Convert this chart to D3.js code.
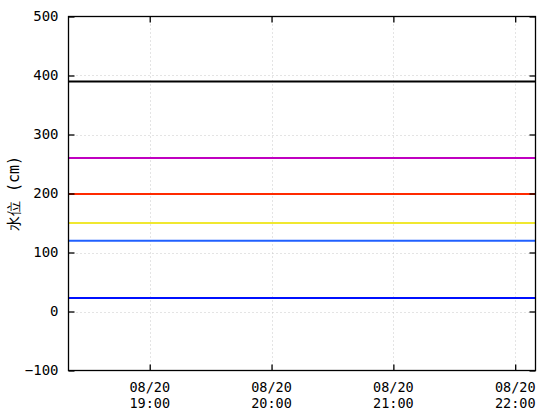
<!DOCTYPE html>
<html><head><meta charset="utf-8">
<script src="https://cdn.jsdelivr.net/npm/d3@7"></script>
<style>body{margin:0;background:#fff}svg{display:block}text{font-family:"DejaVu Sans Mono",monospace}</style>
</head><body><svg id="c" width="560" height="420"></svg>
<script>
const times = ["2023-08-20T18:20","2023-08-20T19:00","2023-08-20T20:00","2023-08-20T21:00","2023-08-20T22:00","2023-08-20T22:10"];
const seriesBlack  = [390,390,390,390,390,390];
const seriesPurple = [260,260,260,260,260,260];
const seriesRed    = [199,199,199,199,199,199];
const seriesYellow = [150,150,150,150,150,150];
const seriesLtBlue = [120,120,120,120,120,120];
const seriesBlue   = [23,23,23,23,23,23];
const yTicks = [-100,0,100,200,300,400,500];
const xTicks = ["2023-08-20T19:00","2023-08-20T20:00","2023-08-20T21:00","2023-08-20T22:00"];
const yLabel = "水位 (cm)";

const parse = d3.timeParse("%Y-%m-%dT%H:%M");
const svg = d3.select("#c");
const L=68.5, R=535.5, T=16.5, B=370.5;
const x = d3.scaleTime().domain([parse(times[0]), parse(times[times.length-1])]).range([L,R]);
const y = d3.scaleLinear().domain([-100,500]).range([B,T]);

// grid
const g = svg.append("g");
yTicks.filter(v=>v>-100&&v<500).forEach(v=>{
  g.append("line").attr("x1",L).attr("x2",R).attr("y1",Math.round(y(v))+0.5).attr("y2",Math.round(y(v))+0.5)
   .attr("stroke","#c8c8c8").attr("stroke-dasharray","1,3");
});
xTicks.forEach(t=>{
  const xx=Math.round(x(parse(t)))+0.5;
  g.append("line").attr("x1",xx).attr("x2",xx).attr("y1",T).attr("y2",B)
   .attr("stroke","#c8c8c8").attr("stroke-dasharray","1,3");
});

// series
const series = [
  {v:seriesBlack,c:"#000000"},
  {v:seriesPurple,c:"#c000c0"},
  {v:seriesRed,c:"#ff2a00"},
  {v:seriesYellow,c:"#f0e830"},
  {v:seriesLtBlue,c:"#2060ff"},
  {v:seriesBlue,c:"#0010ff"}
];
const line = d3.line().x(d=>x(d[0])).y(d=>y(d[1]));
series.forEach(s=>{
  svg.append("path").datum(times.map((t,i)=>[parse(t),s.v[i]]))
    .attr("d",line).attr("fill","none").attr("stroke",s.c).attr("stroke-width",2);
});

// frame
svg.append("rect").attr("x",L).attr("y",T).attr("width",R-L).attr("height",B-T)
  .attr("fill","none").attr("stroke","#000").attr("stroke-width",1.3);

// axes ticks (inward)
const ax = svg.append("g");
const yAxisL = d3.axisLeft(y).tickValues(yTicks).tickSize(-6).tickPadding(10).tickFormat(d3.format("d"));
ax.append("g").attr("transform",`translate(${L},0)`).call(yAxisL);
const yAxisR = d3.axisRight(y).tickValues(yTicks).tickSize(-6).tickFormat("");
ax.append("g").attr("transform",`translate(${R},0)`).call(yAxisR);
const fmt1=d3.timeFormat("%m/%d"), fmt2=d3.timeFormat("%H:%M");
const xAxisB = d3.axisBottom(x).tickValues(xTicks.map(parse)).tickSize(-6).tickFormat("");
ax.append("g").attr("transform",`translate(0,${B})`).call(xAxisB);
const xAxisT = d3.axisTop(x).tickValues(xTicks.map(parse)).tickSize(-6).tickFormat("");
ax.append("g").attr("transform",`translate(0,${T})`).call(xAxisT);
ax.selectAll(".domain").remove();
ax.selectAll(".tick line").attr("stroke","#000").attr("stroke-width",1.3);
ax.selectAll("text").attr("font-size",14).attr("fill","#000").attr("font-family",'"DejaVu Sans Mono",monospace');

xTicks.forEach(t=>{
  const d=parse(t), xx=x(d);
  svg.append("text").attr("x",xx).attr("y",392).attr("text-anchor","middle").attr("font-size",13.5).text(fmt1(d));
  svg.append("text").attr("x",xx).attr("y",408).attr("text-anchor","middle").attr("font-size",13.5).text(fmt2(d));
});

svg.append("text").attr("transform",`translate(19,${(T+B)/2}) rotate(-90)`)
  .attr("text-anchor","middle").attr("font-size",15)
  .attr("font-family",'"Noto Sans CJK JP",sans-serif').text(yLabel);
</script></body></html>
